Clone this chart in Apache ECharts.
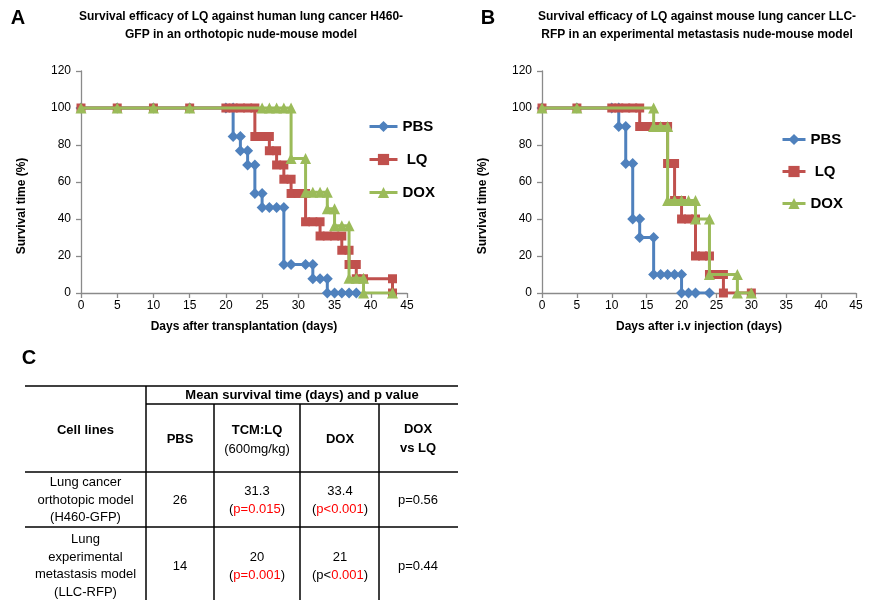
<!DOCTYPE html>
<html><head><meta charset="utf-8">
<script src="https://cdn.jsdelivr.net/npm/echarts@6/dist/echarts.min.js"></script>
<style>html,body{margin:0;padding:0;background:#fff}#c{width:881px;height:600px}</style>
</head><body><div id="c"></div><script>
// ---------- data ----------
const seriesNames = ['PBS', 'LQ', 'DOX'];
const titleA = 'Survival efficacy of LQ against human lung cancer H460-\nGFP in an orthotopic nude-mouse model';
const titleB = 'Survival efficacy of LQ against mouse lung cancer LLC-\nRFP in an experimental metastasis nude-mouse model';
const xNameA = 'Days after transplantation (days)';
const xNameB = 'Days after i.v injection (days)';
const yName = 'Survival time (%)';

// Panel A (day, survival %)
const pbsA = [[0,100],[5,100],[10,100],[15,100],[20,100],[21,100],[21,84.6],[22,84.6],[22,76.9],[23,76.9],[23,69.2],[24,69.2],[24,53.8],[25,53.8],[25,46.2],[26,46.2],[27,46.2],[28,46.2],[28,15.4],[29,15.4],[31,15.4],[32,15.4],[32,7.7],[33,7.7],[34,7.7],[34,0],[35,0],[36,0],[37,0],[38,0]];
const lqA = [[0,100],[5,100],[10,100],[15,100],[20,100],[21,100],[22,100],[23,100],[24,100],[24,84.6],[25,84.6],[26,84.6],[26,76.9],[27,76.9],[27,69.2],[28,69.2],[28,61.5],[29,61.5],[29,53.8],[30,53.8],[31,53.8],[31,38.5],[32,38.5],[33,38.5],[33,30.8],[34,30.8],[35,30.8],[36,30.8],[36,23.1],[37,23.1],[37,15.4],[38,15.4],[38,7.7],[39,7.7],[43,7.7],[43,0]];
const doxA = [[0,100],[5,100],[10,100],[15,100],[25,100],[26,100],[27,100],[28,100],[29,100],[29,72.7],[31,72.7],[31,54.5],[32,54.5],[33,54.5],[34,54.5],[34,45.5],[35,45.5],[35,36.4],[36,36.4],[37,36.4],[37,8],[38,8],[39,8],[39,0],[43,0]];

// Panel B
const pbsB = [[0,100],[5,100],[10,100],[11,100],[11,90],[12,90],[12,70],[13,70],[13,40],[14,40],[14,30],[16,30],[16,10],[17,10],[18,10],[19,10],[20,10],[20,0],[21,0],[22,0],[24,0]];
const lqB = [[0,100],[5,100],[10,100],[11,100],[12,100],[13,100],[14,100],[14,90],[15,90],[16,90],[17,90],[18,90],[18,70],[19,70],[19,50],[20,50],[20,40],[21,40],[22,40],[22,20],[23,20],[24,20],[24,10],[25,10],[26,10],[26,0],[30,0]];
const doxB = [[0,100],[5,100],[16,100],[16,90],[17,90],[18,90],[18,50],[19,50],[20,50],[21,50],[22,50],[22,40],[24,40],[24,10],[28,10],[28,0],[30,0]];

// Table C
const tableTitle = 'Mean survival time (days) and p value';
const tableFirstHeader = 'Cell lines';
const tableGroups = ['PBS', 'TCM:LQ', 'DOX', 'DOX\nvs LQ'];
const tableLqDose = '(600mg/kg)';
const rowLabels = ['Lung cancer\northotopic model\n(H460-GFP)', 'Lung\nexperimental\nmetastasis model\n(LLC-RFP)'];
const pbsMean = ['26', '14'];
const lqMean = ['31.3', '20'];
const lqP = ['p=0.015', 'p=0.001'];
const doxMean = ['33.4', '21'];
const doxPBlack = ['', 'p<'];
const doxPRed = ['p<0.001', '0.001'];
const doxVsLq = ['p=0.56', 'p=0.44'];

// ---------- styles ----------
const FONT = '"Liberation Sans", Arial, sans-serif';
const colors = ['#4F81BD', '#C0504D', '#9BBB59'];
const symbols = ['diamond', 'rect', 'triangle'];
const symSizes = [11, 9, 11];

const chart = echarts.init(document.getElementById('c'), null, {renderer: 'canvas'});

function xAx(gi) {
  return {gridIndex: gi, type: 'value', min: 0, max: 45, interval: 5,
    axisLine: {lineStyle: {color: '#8a8a8a', width: 1.3}},
    axisTick: {show: true, inside: false, length: 5, lineStyle: {color: '#8a8a8a', width: 1.3}},
    splitLine: {show: false},
    axisLabel: {margin: 7, fontSize: 12, color: '#000', fontFamily: FONT}};
}
function yAx(gi) {
  return {gridIndex: gi, type: 'value', min: 0, max: 120, interval: 20,
    axisLine: {show: true, lineStyle: {color: '#8a8a8a', width: 1.3}},
    axisTick: {show: true, inside: false, length: 5, lineStyle: {color: '#8a8a8a', width: 1.3}},
    splitLine: {show: false},
    axisLabel: {margin: 10, fontSize: 12, color: '#000', fontFamily: FONT}};
}
function mk(name, idx, data, gi) {
  return {name: name, type: 'line', xAxisIndex: gi, yAxisIndex: gi, data: data,
    symbol: symbols[idx], symbolSize: symSizes[idx], showSymbol: true, showAllSymbol: true,
    lineStyle: {color: colors[idx], width: 3}, itemStyle: {color: colors[idx]},
    animation: false, z: 2 + idx};
}
const legendBase = {data: seriesNames, orient: 'vertical', itemHeight: 14, selectedMode: false, padding: 0,
  lineStyle: {width: 3},
  formatter: n => n === 'LQ' ? ' LQ' : n,
  textStyle: {fontSize: 15, fontWeight: 'bold', color: '#000', fontFamily: FONT}};

const txt = (x, y, text, extra) => ({type: 'text', x: x, y: y, silent: true,
  style: Object.assign({text: text, fill: '#000', font: '13px ' + FONT, textAlign: 'center', textVerticalAlign: 'middle', lineHeight: 17.5}, extra || {})});
const ln = (x1, y1, x2, y2) => ({type: 'line', silent: true, shape: {x1, y1, x2, y2}, style: {stroke: '#000', lineWidth: 1.5}});

const graphics = [
  txt(18, 18, 'A', {font: 'bold 20px ' + FONT}),
  txt(488, 18, 'B', {font: 'bold 20px ' + FONT}),
  txt(29, 358, 'C', {font: 'bold 20px ' + FONT}),
  txt(241, 26, titleA, {font: 'bold 12px ' + FONT, lineHeight: 18}),
  txt(697, 26, titleB, {font: 'bold 12px ' + FONT, lineHeight: 18}),
  txt(244, 327, xNameA, {font: 'bold 12px ' + FONT}),
  txt(699, 327, xNameB, {font: 'bold 12px ' + FONT}),
  {type: 'text', x: 22, y: 206, rotation: Math.PI / 2, silent: true, style: {text: yName, fill: '#000', font: 'bold 12px ' + FONT, textAlign: 'center', textVerticalAlign: 'middle'}},
  {type: 'text', x: 483, y: 206, rotation: Math.PI / 2, silent: true, style: {text: yName, fill: '#000', font: 'bold 12px ' + FONT, textAlign: 'center', textVerticalAlign: 'middle'}},
  // table lines
  ln(25, 386, 458, 386), ln(146, 404, 458, 404), ln(25, 472, 458, 472), ln(25, 527, 458, 527),
  ln(146, 386, 146, 600), ln(214, 404, 214, 600), ln(300, 404, 300, 600), ln(379, 404, 379, 600),
  // table header
  txt(302, 395, tableTitle, {font: 'bold 13px ' + FONT}),
  txt(85.5, 430, tableFirstHeader, {font: 'bold 13px ' + FONT}),
  txt(180, 439, tableGroups[0], {font: 'bold 13px ' + FONT}),
  txt(257, 430, tableGroups[1], {font: 'bold 13px ' + FONT}),
  txt(257, 449, tableLqDose),
  txt(340, 439, tableGroups[2], {font: 'bold 13px ' + FONT}),
  txt(418, 439, tableGroups[3], {font: 'bold 13px ' + FONT, lineHeight: 19}),
];
const rowCenters = [500, 566];
for (let i = 0; i < 2; i++) {
  const yc = rowCenters[i];
  graphics.push(txt(85.5, yc, rowLabels[i]));
  graphics.push(txt(180, yc, pbsMean[i]));
  graphics.push(txt(257, yc - 8.5, lqMean[i]));
  graphics.push({type: 'text', x: 257, y: yc + 9, silent: true, style: {
    text: '{k|(}{r|' + lqP[i] + '}{k|)}', textAlign: 'center', textVerticalAlign: 'middle',
    rich: {k: {fill: '#000', font: '13px ' + FONT}, r: {fill: '#ff0000', font: '13px ' + FONT}}}});
  graphics.push(txt(340, yc - 8.5, doxMean[i]));
  graphics.push({type: 'text', x: 340, y: yc + 9, silent: true, style: {
    text: '{k|(' + doxPBlack[i] + '}{r|' + doxPRed[i] + '}{k|)}', textAlign: 'center', textVerticalAlign: 'middle',
    rich: {k: {fill: '#000', font: '13px ' + FONT}, r: {fill: '#ff0000', font: '13px ' + FONT}}}});
  graphics.push(txt(418, yc, doxVsLq[i]));
}

chart.setOption({
  animation: false,
  backgroundColor: '#fff',
  grid: [
    {left: 81, top: 71, width: 326, height: 222},
    {left: 542, top: 71, width: 314, height: 222}
  ],
  xAxis: [xAx(0), xAx(1)],
  yAxis: [yAx(0), yAx(1)],
  legend: [
    Object.assign({}, legendBase, {left: 368, top: 119, itemWidth: 28, itemGap: 18}),
    Object.assign({}, legendBase, {left: 781, top: 132, itemWidth: 23, itemGap: 17})
  ],
  series: [
    mk('PBS', 0, pbsA, 0), mk('LQ', 1, lqA, 0), mk('DOX', 2, doxA, 0),
    mk('PBS', 0, pbsB, 1), mk('LQ', 1, lqB, 1), mk('DOX', 2, doxB, 1)
  ],
  graphic: graphics
});
</script></body></html>
